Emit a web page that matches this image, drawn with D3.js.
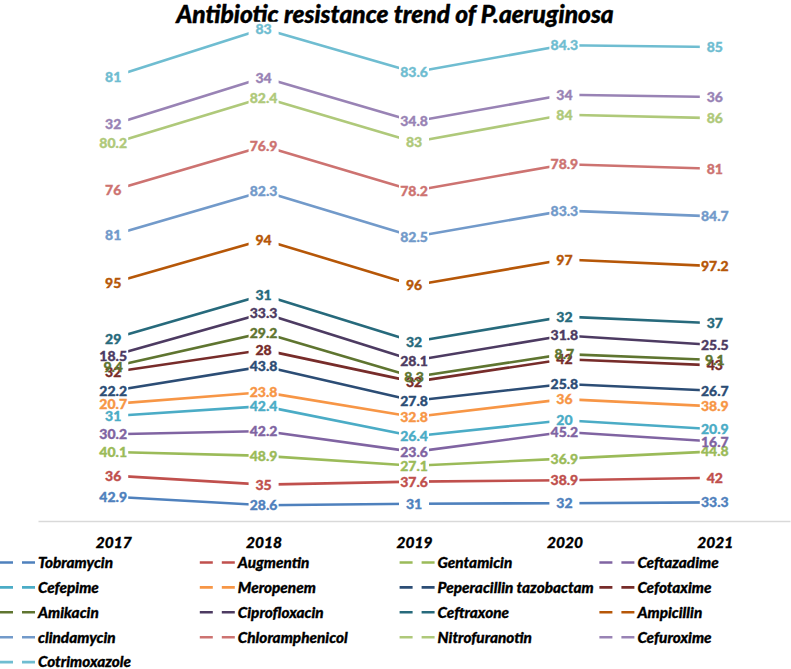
<!DOCTYPE html>
<html>
<head>
<meta charset="utf-8">
<script src="https://cdn.jsdelivr.net/npm/d3@7"></script>
<style>
  html, body { margin: 0; padding: 0; background: #fff; }
  svg { display: block; font-family: Lato, "Open Sans", sans-serif; }
</style>
</head>
<body>
<script>
// ---- data ----
const years = ["2017", "2018", "2019", "2020", "2021"];
const seriesNames = ["Tobramycin", "Augmentin", "Gentamicin", "Ceftazadime", "Cefepime", "Meropenem",
  "Peperacillin tazobactam", "Cefotaxime", "Amikacin", "Ciprofloxacin", "Ceftraxone", "Ampicillin",
  "clindamycin", "Chloramphenicol", "Nitrofuranotin", "Cefuroxime", "Cotrimoxazole"];
const tobramycin      = [42.9, 28.6, 31, 32, 33.3];
const augmentin       = [36, 35, 37.6, 38.9, 42];
const gentamicin      = [40.1, 48.9, 27.1, 36.9, 44.8];
const ceftazadime     = [30.2, 42.2, 23.6, 45.2, 16.7];
const cefepime        = [31, 42.4, 26.4, 20, 20.9];
const meropenem       = [20.7, 23.8, 32.8, 36, 38.9];
const peperacillin    = [22.2, 43.8, 27.8, 25.8, 26.7];
const cefotaxime      = [32, 28, 32, 42, 43];
const amikacin        = [9.4, 29.2, 8.3, 8.7, 9.1];
const ciprofloxacin   = [18.5, 33.3, 28.1, 31.8, 25.5];
const ceftraxone      = [29, 31, 32, 32, 37];
const ampicillin      = [95, 94, 96, 97, 97.2];
const clindamycin     = [81, 82.3, 82.5, 83.3, 84.7];
const chloramphenicol = [76, 76.9, 78.2, 78.9, 81];
const nitrofuranotin  = [80.2, 82.4, 83, 84, 86];
const cefuroxime      = [32, 34, 34.8, 34, 36];
const cotrimoxazole   = [81, 83, 83.6, 84.3, 85];
const seriesValues = [tobramycin, augmentin, gentamicin, ceftazadime, cefepime, meropenem,
  peperacillin, cefotaxime, amikacin, ciprofloxacin, ceftraxone, ampicillin,
  clindamycin, chloramphenicol, nitrofuranotin, cefuroxime, cotrimoxazole];
const colors = ["#4F81BD", "#C0504D", "#9BBB59", "#8064A2", "#4BACC6", "#F79646",
  "#2C4D75", "#772C2A", "#5F7530", "#4D3B62", "#276A7C", "#B65708",
  "#729ACA", "#CD7371", "#AFC97A", "#9983B5", "#6FBDD1"];
const title = "Antibiotic resistance trend of P.aeruginosa";

// ---- build table ----
const table = years.map((yr, i) => {
  const row = { year: yr };
  seriesNames.forEach((n, s) => { row[n] = seriesValues[s][i]; });
  return row;
});
const stacked = d3.stack().keys(seriesNames)(table);

const W = 791, H = 669;
const svg = d3.select("body").append("svg").attr("width", W).attr("height", H);

const x = d3.scalePoint().domain(years).range([38, 790]).padding(0.5);
const y = d3.scaleLinear().domain([0, 880]).range([522, 522 - 880 * 0.588]);

// title
svg.append("text")
  .attr("x", 395).attr("y", 23)
  .attr("text-anchor", "middle")
  .style("font-size", "24.5px").style("font-weight", "900").style("font-style", "italic")
  .attr("fill", "#000").attr("stroke", "#000").attr("stroke-width", 0.4)
  .text(title);

// axis
const axisG = svg.append("g").attr("transform", "translate(0,521)")
  .call(d3.axisBottom(x).tickSize(0).tickSizeOuter(0).tickPadding(0));
axisG.select(".domain").attr("stroke", "#d9d9d9").attr("stroke-width", 1.3);
axisG.selectAll("text")
  .attr("y", 22).attr("dy", "0.35em")
  .style("font-family", "Lato, sans-serif")
  .style("font-size", "15.5px").style("font-weight", "900").style("font-style", "italic")
  .attr("fill", "#000").attr("stroke", "#000").attr("stroke-width", 0.3);

// lines
const line = d3.line().x(d => x(d.data.year)).y(d => y(d[1]));
svg.append("g").selectAll("path").data(stacked).join("path")
  .attr("d", line)
  .attr("fill", "none")
  .attr("stroke", (d, i) => colors[i])
  .attr("stroke-width", 2.6)
  .attr("stroke-linejoin", "round");

// label boxes
const labelData = [];
stacked.forEach((s, i) => s.forEach(d => labelData.push({
  s: i, x: x(d.data.year), y: y(d[1]), v: d.data[seriesNames[i]]
})));
svg.append("g").selectAll("rect").data(labelData).join("rect")
  .attr("x", d => d.x - 15).attr("y", d => d.y - 7)
  .attr("width", 30).attr("height", 14)
  .attr("fill", "#fff");
svg.append("g").selectAll("text").data(labelData).join("text")
  .attr("x", d => d.x).attr("y", d => d.y)
  .attr("dy", "0.36em")
  .attr("text-anchor", "middle")
  .style("font-size", "14px").style("font-weight", "900")
  .attr("fill", d => colors[d.s])
  .attr("stroke", d => colors[d.s]).attr("stroke-width", 0.35)
  .text(d => d.v);

// legend
const leg = svg.append("g").selectAll("g").data(seriesNames).join("g")
  .attr("transform", (d, i) => `translate(${38 + (i % 4) * 199.8},${562.5 + Math.floor(i / 4) * 24.9})`);
leg.append("line")
  .attr("x1", -38).attr("x2", -3).attr("y1", 0).attr("y2", 0)
  .attr("stroke", (d, i) => colors[i])
  .attr("stroke-width", 2.6)
  .attr("stroke-dasharray", "13,9");
leg.append("text")
  .attr("x", 0).attr("y", 0).attr("dy", "0.35em")
  .style("font-size", "15.3px").style("font-weight", "900").style("font-style", "italic")
  .attr("fill", "#000").attr("stroke", "#000").attr("stroke-width", 0.3)
  .text(d => d);
</script>
</body>
</html>
